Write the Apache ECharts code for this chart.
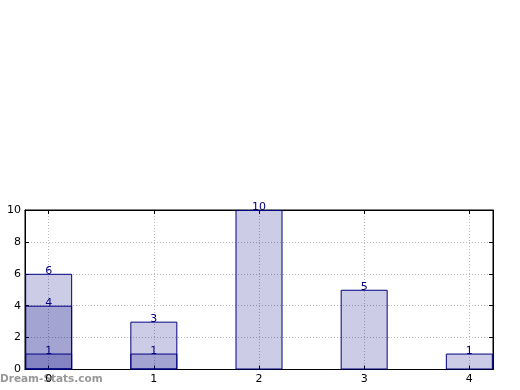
<!DOCTYPE html>
<html><head><meta charset="utf-8">
<script src="https://cdn.jsdelivr.net/npm/echarts@6/dist/echarts.min.js"></script>
<style>html,body{margin:0;padding:0;background:#fff}#c{width:520px;height:390px}</style>
</head><body><div id="c"></div>
<script>
const categories = [0, 1, 2, 3, 4];
const layer1 = [6, 3, 10, 5, 1];
const layer2 = [4, 1, null, null, null];
const layer3 = [1, null, null, null, null];
const yTicks = [0, 2, 4, 6, 8, 10];

const chart = echarts.init(document.getElementById('c'), null, {renderer: 'canvas'});
const font = 'DejaVu Sans';
function mk(vals) {
  return {
    type: 'bar',
    xAxisIndex: 0, yAxisIndex: 0,
    barWidth: 47,
    barGap: '-100%',
    data: categories.map((c, i) => vals[i] == null ? null : [c, vals[i]]).filter(d => d),
    itemStyle: {color: 'rgba(0,0,128,0.2)', borderColor: '#000080', borderWidth: 1},
    label: {show: true, position: 'top', distance: -3, color: '#000080', fontFamily: font, fontSize: 11},
    silent: true, animation: false
  };
}
const axisLine = {show: true, onZero: false, lineStyle: {color: '#000', width: 1}};
chart.setOption({
  animation: false,
  grid: {left: 25, top: 210, width: 468, height: 159.5, show: true, borderColor: '#000', borderWidth: 1, backgroundColor: 'transparent'},
  xAxis: [{
    type: 'value', min: -0.225, max: 4.225, position: 'bottom',
    axisLine,
    axisTick: {show: true, inside: true, length: 4, customValues: categories, lineStyle: {color: '#000'}},
    axisLabel: {customValues: categories, color: '#000', fontFamily: font, fontSize: 11, margin: 4},
    splitLine: {show: true, lineStyle: {color: '#b8b8b8', type: [1, 2], width: 1}}
  }, {
    type: 'value', min: -0.225, max: 4.225, position: 'top',
    axisLine,
    axisTick: {show: true, inside: true, length: 4, customValues: categories, lineStyle: {color: '#000'}},
    axisLabel: {show: false, customValues: categories},
    splitLine: {show: false}
  }],
  yAxis: [{
    type: 'value', min: 0, max: 10, interval: 2, position: 'left',
    axisLine,
    axisTick: {show: true, inside: true, length: 4, lineStyle: {color: '#000'}},
    axisLabel: {color: '#000', fontFamily: font, fontSize: 11, margin: 4},
    splitLine: {show: true, lineStyle: {color: '#b8b8b8', type: [1, 2], width: 1}}
  }, {
    type: 'value', min: 0, max: 10, interval: 2, position: 'right',
    axisLine,
    axisTick: {show: true, inside: true, length: 4, lineStyle: {color: '#000'}},
    axisLabel: {show: false},
    splitLine: {show: false}
  }],
  graphic: [{
    type: 'text', left: 0, top: 374, z: -1,
    style: {text: 'Dream-Stats.com', fill: 'rgba(125,125,125,0.8)', font: 'bold 10.5px "DejaVu Sans"'}
  }],
  series: [mk(layer1), mk(layer2), mk(layer3)]
});
</script></body></html>
